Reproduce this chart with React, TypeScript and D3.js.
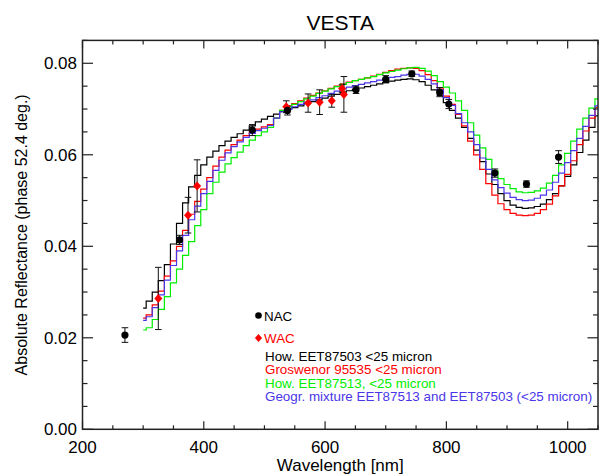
import React from 'react'
import * as d3 from 'd3'

// model spectra sampled every 10 nm from 300 to 1050 nm
const modelWavelengths = d3.range(300, 1051, 10)

const howEET87503 = [
  0.0265, 0.028, 0.03, 0.0325, 0.036, 0.0405, 0.045, 0.0495, 0.053, 0.0555,
  0.0578, 0.0595, 0.0608, 0.062, 0.063, 0.0638, 0.0646, 0.0654, 0.0663, 0.0672,
  0.0678, 0.0684, 0.0689, 0.0695, 0.07, 0.0703, 0.0707, 0.0712, 0.0716, 0.072,
  0.0724, 0.0728, 0.0732, 0.0737, 0.074, 0.0743, 0.0746, 0.0749, 0.0752, 0.0755,
  0.0758, 0.0761, 0.0763, 0.0765, 0.0766, 0.0764, 0.076, 0.0752, 0.0742, 0.073,
  0.0714, 0.0697, 0.068, 0.066, 0.0636, 0.061, 0.0585, 0.0558, 0.0535, 0.0515,
  0.05, 0.049, 0.0485, 0.0483, 0.0484, 0.0487, 0.0492, 0.0502, 0.0515, 0.0532,
  0.0553, 0.0578, 0.0605, 0.0632, 0.066, 0.0685,
]

const groswenor95535 = [
  0.0243, 0.025, 0.0272, 0.0302, 0.0335, 0.0368, 0.04, 0.0435, 0.047, 0.0498,
  0.0525, 0.055, 0.0575, 0.0595, 0.061, 0.0622, 0.0632, 0.0642, 0.065, 0.0656,
  0.0661, 0.0666, 0.068, 0.0697, 0.0706, 0.0712, 0.0718, 0.0724, 0.073, 0.0735,
  0.074, 0.0745, 0.075, 0.0755, 0.0759, 0.0762, 0.0765, 0.0768, 0.0772, 0.0776,
  0.078, 0.0784, 0.0787, 0.0789, 0.079, 0.0789, 0.0784, 0.0775, 0.0762, 0.0746,
  0.0728, 0.071, 0.0688, 0.0663, 0.063, 0.06, 0.0568, 0.0537, 0.0512, 0.0493,
  0.048, 0.0472, 0.0468, 0.0467, 0.0468, 0.0472, 0.048, 0.0492, 0.051, 0.0532,
  0.0557, 0.0587, 0.0622, 0.0652, 0.068, 0.0703,
]

const howEET87513 = [
  0.0217, 0.0222, 0.024, 0.0262, 0.029, 0.032, 0.035, 0.038, 0.041, 0.0445,
  0.048, 0.0515, 0.054, 0.0562, 0.058, 0.0594, 0.0606, 0.062, 0.0632, 0.0642,
  0.065, 0.066, 0.068, 0.0697, 0.0704, 0.071, 0.0716, 0.0722, 0.0728, 0.0734,
  0.0739, 0.0744, 0.0749, 0.0754, 0.0758, 0.0762, 0.0765, 0.0768, 0.0771, 0.0775,
  0.0779, 0.0782, 0.0785, 0.0788, 0.079, 0.0791, 0.0789, 0.0783, 0.0773, 0.076,
  0.0748, 0.0735, 0.0718, 0.0697, 0.067, 0.0643, 0.0615, 0.059, 0.0565, 0.0548,
  0.0535, 0.0526, 0.0519, 0.0517, 0.0518, 0.0521, 0.0527, 0.0538, 0.0555, 0.0578,
  0.0603, 0.063, 0.0656, 0.068, 0.0702, 0.0722,
]

const geogrMixture = [
  0.0238, 0.0246, 0.0266, 0.0294, 0.0326, 0.0358, 0.039, 0.0424, 0.0458, 0.0488,
  0.0515, 0.0542, 0.0566, 0.0588, 0.0604, 0.0618, 0.0628, 0.0638, 0.0647, 0.0653,
  0.0658, 0.0664, 0.068, 0.0694, 0.07, 0.0705, 0.071, 0.0715, 0.072, 0.0725,
  0.0729, 0.0734, 0.0739, 0.0744, 0.0748, 0.0751, 0.0754, 0.0757, 0.076, 0.0763,
  0.0766, 0.0769, 0.0771, 0.0774, 0.0776, 0.0776, 0.0772, 0.0765, 0.0755, 0.0742,
  0.0725, 0.0708, 0.069, 0.067, 0.065, 0.0622, 0.0593, 0.0568, 0.0545, 0.0528,
  0.0516, 0.0507, 0.0502, 0.05, 0.0501, 0.0505, 0.0512, 0.0523, 0.054, 0.056,
  0.0583, 0.0609, 0.0636, 0.0662, 0.0686, 0.0707,
]

// NAC / WAC measurements: wavelength, reflectance, error
const nacWavelength = [270, 360, 480, 538, 651, 700, 743, 789, 804, 880, 932, 985]
const nacReflectance = [0.0206, 0.0414, 0.0654, 0.0697, 0.0742, 0.0765, 0.0777, 0.0737, 0.0711, 0.056, 0.0536, 0.0595]
const nacError = [0.0016, 0.001, 0.0012, 0.001, 0.0008, 0.0008, 0.0006, 0.001, 0.001, 0.0009, 0.0007, 0.0014]

const wacWavelength = [325, 374, 389, 536, 572, 591, 611, 628, 631]
const wacReflectance = [0.0286, 0.0468, 0.0532, 0.0705, 0.0713, 0.0715, 0.0718, 0.0745, 0.0732]
const wacError = [0.0068, 0.0039, 0.0057, 0.0013, 0.002, 0.0027, 0.0014, 0.0008, 0.0039]

const xTicks = [200, 400, 600, 800, 1000]
const yTicks = [0, 0.02, 0.04, 0.06, 0.08]

const models = [
  { name: 'How. EET87503 <25 micron', values: howEET87503, color: '#000000' },
  { name: 'Groswenor 95535 <25 micron', values: groswenor95535, color: '#ff0000' },
  { name: 'How. EET87513, <25 micron', values: howEET87513, color: '#00ee00' },
  { name: 'Geogr. mixture EET87513 and EET87503 (<25 micron)', values: geogrMixture, color: '#4a36e8' },
]

const W = 599
const H = 475
const left = 82.5
const right = 598
const top = 40.4
const bottom = 429.3
const font = "'Liberation Sans', Arial, Helvetica, sans-serif"

export default function App() {
  const x = d3.scaleLinear().domain([200, 1050]).range([left, right])
  const y = d3.scaleLinear().domain([0, 0.085]).range([bottom, top])

  const line = d3
    .line<[number, number]>()
    .x((d) => x(d[0]))
    .y((d) => y(d[1]))
    .curve(d3.curveStep)

  const xMinor = d3.range(200, 1051, 50).filter((v) => !xTicks.includes(v))
  const yMinor = d3.range(0, 0.0851, 0.005).filter((v) => !yTicks.some((t) => Math.abs(t - v) < 1e-6))

  const axisColor = '#222'
  const diamond = 'M0,-4.5L4,0L0,4.5L-4,0Z'

  return (
    <svg width={W} height={H} style={{ position: 'absolute', left: 0, top: 0 }} fontFamily={font}>
      <defs>
        <clipPath id="plot">
          <rect x={left} y={top} width={right - left} height={bottom - top} />
        </clipPath>
      </defs>

      <text x={(left + right) / 2} y={30} textAnchor="middle" fontSize={21}>
        VESTA
      </text>

      {/* model curves */}
      <g clipPath="url(#plot)" fill="none" strokeWidth={1.2}>
        {models.map((m) => (
          <path
            key={m.name}
            d={line(modelWavelengths.map((w, i) => [w, m.values[i]]) as [number, number][]) || ''}
            stroke={m.color}
          />
        ))}
      </g>

      {/* error bars */}
      <g stroke="#111" strokeWidth={1}>
        {[...nacWavelength.map((w, i) => [w, nacReflectance[i], nacError[i]]),
          ...wacWavelength.map((w, i) => [w, wacReflectance[i], wacError[i]])].map((d, i) => (
          <g key={i}>
            <line x1={x(d[0])} x2={x(d[0])} y1={y(d[1] - d[2])} y2={y(d[1] + d[2])} />
            <line x1={x(d[0]) - 3.3} x2={x(d[0]) + 3.3} y1={y(d[1] - d[2])} y2={y(d[1] - d[2])} />
            <line x1={x(d[0]) - 3.3} x2={x(d[0]) + 3.3} y1={y(d[1] + d[2])} y2={y(d[1] + d[2])} />
          </g>
        ))}
      </g>

      {/* WAC diamonds */}
      {wacWavelength.map((w, i) => (
        <path key={'w' + i} d={diamond} transform={`translate(${x(w)},${y(wacReflectance[i])})`} fill="#ff0000" />
      ))}
      {/* NAC circles */}
      {nacWavelength.map((w, i) => (
        <circle key={'n' + i} cx={x(w)} cy={y(nacReflectance[i])} r={3.6} fill="#000" />
      ))}

      {/* frame */}
      <rect x={left} y={top} width={right - left} height={bottom - top} fill="none" stroke={axisColor} strokeWidth={1.5} />

      {/* ticks */}
      <g stroke={axisColor} strokeWidth={1.2}>
        {xTicks.map((t) => (
          <g key={'xt' + t}>
            <line x1={x(t)} x2={x(t)} y1={bottom} y2={bottom - 8} />
            <line x1={x(t)} x2={x(t)} y1={top} y2={top + 8} />
          </g>
        ))}
        {xMinor.map((t) => (
          <g key={'xm' + t}>
            <line x1={x(t)} x2={x(t)} y1={bottom} y2={bottom - 4} />
            <line x1={x(t)} x2={x(t)} y1={top} y2={top + 4} />
          </g>
        ))}
        {yTicks.map((t) => (
          <g key={'yt' + t}>
            <line x1={left} x2={left + 10.5} y1={y(t)} y2={y(t)} />
            <line x1={right} x2={right - 10.5} y1={y(t)} y2={y(t)} />
          </g>
        ))}
        {yMinor.map((t) => (
          <g key={'ym' + t}>
            <line x1={left} x2={left + 5} y1={y(t)} y2={y(t)} />
            <line x1={right} x2={right - 5} y1={y(t)} y2={y(t)} />
          </g>
        ))}
      </g>

      {/* tick labels */}
      <g fontSize={17} fill="#000">
        {xTicks.map((t) => (
          <text key={'xl' + t} x={x(t)} y={453} textAnchor="middle">
            {t}
          </text>
        ))}
        {yTicks.map((t) => (
          <text key={'yl' + t} x={77} y={y(t)} dy="0.35em" textAnchor="end">
            {d3.format('.2f')(t)}
          </text>
        ))}
      </g>

      <text x={(left + right) / 2} y={471} textAnchor="middle" fontSize={17}>
        Wavelength [nm]
      </text>
      <text transform={`translate(27,${(top + bottom) / 2}) rotate(-90)`} textAnchor="middle" fontSize={16}>
        Absolute Reflectance (phase 52.4 deg.)
      </text>

      {/* legend */}
      <g fontSize={13.4}>
        <circle cx={258.5} cy={315.5} r={3.3} fill="#000" />
        <text x={264} y={320.5} fill="#000">NAC</text>
        <path d="M0,-4L3.6,0L0,4L-3.6,0Z" transform="translate(258.5,338)" fill="#ff0000" />
        <text x={264} y={343} fill="#ff0000">WAC</text>
        {models.map((m, i) => (
          <text key={'lg' + i} x={265} y={361 + i * 13.3} fill={m.color}>
            {m.name}
          </text>
        ))}
      </g>
    </svg>
  )
}
